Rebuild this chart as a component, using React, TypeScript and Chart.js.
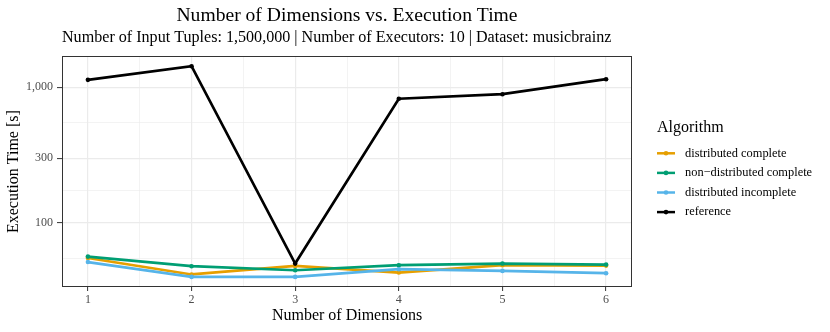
import React, { useEffect, useRef } from 'react';
import { Chart, registerables } from 'chart.js';

Chart.register(...registerables);

// ---- Data ----
const dimensions = [1, 2, 3, 4, 5, 6];
const distributedComplete = [55.3, 41.8, 48.3, 43.2, 48.9, 48.6];
const nonDistributedComplete = [56.6, 48.1, 44.9, 48.9, 50.3, 49.4];
const distributedIncomplete = [51.6, 40.1, 40.1, 45.7, 44.4, 42.7];
const referenceTimes = [1133, 1427, 50.3, 822, 888, 1145];

const seriesNames = ['distributed complete', 'non\u2212distributed complete', 'distributed incomplete', 'reference'];
const seriesColors = ['#E69F00', '#009E73', '#56B4E9', '#000000'];
const seriesValues = [distributedComplete, nonDistributedComplete, distributedIncomplete, referenceTimes];

const yMajorTicks = [100, 300, 1000];
const yMinorTicks = [54.8, 173.2, 547.7];
const xMajorTicks = [1, 2, 3, 4, 5, 6];
const xMinorTicks = [1.5, 2.5, 3.5, 4.5, 5.5];

const titleText = 'Number of Dimensions vs. Execution Time';
const subtitleText = 'Number of Input Tuples: 1,500,000 | Number of Executors: 10 | Dataset: musicbrainz';
const xTitle = 'Number of Dimensions';
const yTitle = 'Execution Time [s]';
const legendTitle = 'Algorithm';

const FONT = "'Liberation Serif', 'DejaVu Serif', serif";

const panelAndLegend = {
  id: 'panelAndLegend',
  afterDatasetsDraw(chart: any) {
    const { ctx, chartArea: a } = chart;
    ctx.save();
    ctx.strokeStyle = '#333333';
    ctx.lineWidth = 1;
    ctx.strokeRect(Math.round(a.left) + 0.5, Math.round(a.top) + 0.5, Math.round(a.right - a.left) - 1, Math.round(a.bottom - a.top) - 1);
    ctx.restore();
  },
  afterDraw(chart: any) {
    const { ctx, chartArea: a } = chart;
    const x0 = a.right + 25;
    ctx.save();
    ctx.fillStyle = '#000000';
    ctx.textBaseline = 'middle';
    ctx.textAlign = 'left';
    ctx.font = `16px ${FONT}`;
    ctx.fillText(legendTitle, x0, 128);
    ctx.font = `12.4px ${FONT}`;
    seriesNames.forEach((name, i) => {
      const y = 153.3 + i * 19.6;
      ctx.strokeStyle = seriesColors[i];
      ctx.lineWidth = 2.5;
      ctx.beginPath();
      ctx.moveTo(x0, y);
      ctx.lineTo(x0 + 18, y);
      ctx.stroke();
      ctx.fillStyle = seriesColors[i];
      ctx.beginPath();
      ctx.arc(x0 + 9, y, 2.3, 0, Math.PI * 2);
      ctx.fill();
      ctx.fillStyle = '#000000';
      ctx.fillText(name, x0 + 28, y);
    });
    ctx.restore();
  },
};

export default function App() {
  const canvasRef = useRef<HTMLCanvasElement | null>(null);

  useEffect(() => {
    const canvas = canvasRef.current;
    if (!canvas) return;
    // draw order: first dataset is drawn on top in Chart.js, so reverse
    const order = [3, 2, 1, 0];
    const datasets = order.map((i) => ({
      label: seriesNames[i],
      data: dimensions.map((d, k) => ({ x: d, y: seriesValues[i][k] })),
      borderColor: seriesColors[i],
      backgroundColor: seriesColors[i],
      borderWidth: 2.7,
      pointRadius: 2.3,
      pointHoverRadius: 2.3,
      pointBorderWidth: 0,
      tension: 0,
    }));

    const chart = new Chart(canvas, {
      type: 'line',
      data: { datasets },
      plugins: [panelAndLegend],
      options: {
        responsive: false,
        animation: false,
        events: [],
        layout: { padding: { left: 0, right: 198, top: 0, bottom: 0 } },
        plugins: {
          legend: { display: false },
          tooltip: { enabled: false },
          title: {
            display: true,
            text: titleText,
            fullSize: false,
            color: '#000000',
            font: { family: FONT, size: 19.6, weight: 'normal', lineHeight: 1.2 },
            padding: { top: 4, bottom: 0 },
          },
          subtitle: {
            display: true,
            text: subtitleText,
            fullSize: false,
            align: 'start',
            color: '#000000',
            font: { family: FONT, size: 16.1, weight: 'normal', lineHeight: 1.2 },
            padding: { top: 0.5, bottom: 8.9 },
          },
        },
        scales: {
          x: {
            type: 'linear',
            min: 0.75,
            max: 6.25,
            afterBuildTicks: (s: any) => {
              s.ticks = [...xMajorTicks, ...xMinorTicks].sort((p, q) => p - q).map((v) => ({ value: v }));
            },
            afterFit: (s: any) => {
              s.height = 45;
            },
            grid: {
              color: '#EBEBEB',
              lineWidth: (c: any) => (Number.isInteger(c.tick?.value) ? 1.2 : 0.6),
              tickColor: (c: any) => (Number.isInteger(c.tick?.value) ? '#333333' : 'rgba(0,0,0,0)'),
              tickLength: 4,
              tickWidth: 1,
              drawTicks: true,
            },
            border: { display: false },
            ticks: {
              autoSkip: false,
              maxRotation: 0,
              padding: 2,
              color: '#4D4D4D',
              font: { family: FONT, size: 12 },
              callback: (v: any) => (Number.isInteger(v) ? String(v) : ''),
            },
            title: {
              display: true,
              text: xTitle,
              color: '#000000',
              font: { family: FONT, size: 16, lineHeight: 1.2 },
              padding: { top: 0, bottom: 6.7 },
            },
          },
          y: {
            type: 'logarithmic',
            min: 33.8,
            max: 1690,
            afterBuildTicks: (s: any) => {
              s.ticks = [...yMajorTicks, ...yMinorTicks].sort((p, q) => p - q).map((v) => ({ value: v, major: yMajorTicks.includes(v) }));
            },
            afterFit: (s: any) => {
              s.width = 62;
            },
            grid: {
              color: '#EBEBEB',
              lineWidth: (c: any) => (yMajorTicks.includes(c.tick?.value) ? 1.2 : 0.6),
              tickColor: (c: any) => (yMajorTicks.includes(c.tick?.value) ? '#333333' : 'rgba(0,0,0,0)'),
              tickLength: 5,
              tickWidth: 1,
            },
            border: { display: false },
            ticks: {
              autoSkip: false,
              padding: 4,
              color: '#4D4D4D',
              font: { family: FONT, size: 12 },
              callback: (v: any) => (yMajorTicks.includes(v) ? Number(v).toLocaleString('en-US') : ''),
            },
            title: {
              display: true,
              text: yTitle,
              color: '#000000',
              font: { family: FONT, size: 16, lineHeight: 1.2 },
              padding: { top: 4, bottom: 0 },
            },
          },
        },
      },
    } as any);

    return () => chart.destroy();
  }, []);

  return (
    <div style={{ position: 'absolute', left: 0, top: 0, width: 830, height: 332, background: '#ffffff' }}>
      <canvas ref={canvasRef} width={830} height={332} style={{ display: 'block' }} />
    </div>
  );
}
